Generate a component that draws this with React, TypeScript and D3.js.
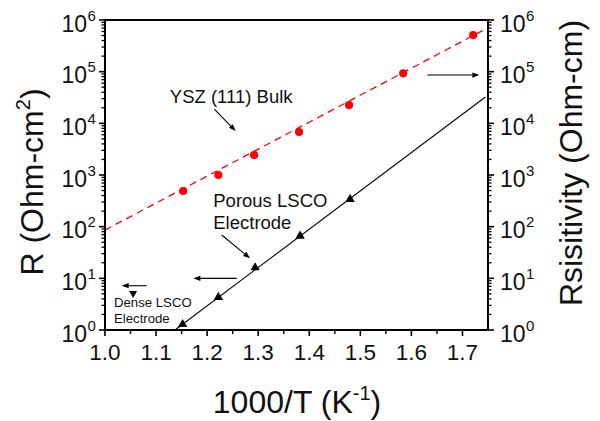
import React from "react";
import * as d3 from "d3";

// ---- data ----
const yszX = [1.153, 1.222, 1.292, 1.38, 1.478, 1.584, 1.721];
const yszY = [490, 1000, 2440, 6800, 22600, 93000, 510000];
const yszFitX = [1.0, 1.75];
const yszFitY = [86, 708000];

const porousX = [1.152, 1.222, 1.294, 1.382, 1.48];
const porousY = [1.29, 4.3, 16.1, 66, 339];
const porousFitX = [1.137, 1.745];
const porousFitY = [1, 32400];

const denseX = [1.055];
const denseY = [5.1];

const xTicks = [1.0, 1.1, 1.2, 1.3, 1.4, 1.5, 1.6, 1.7];
const xTickLabels = ["1.0", "1.1", "1.2", "1.3", "1.4", "1.5", "1.6", "1.7"];
const yExponents = [0, 1, 2, 3, 4, 5, 6];

// annotation arrows: [x1, y1, x2, y2] in data units (arrowhead at second point)
const arrowRight = [1.631, 86000, 1.733, 86000];
const arrowYSZ = [1.214, 18900, 1.256, 7100];
const arrowPorous = [1.2285, 69, 1.284, 24.4];
const arrowPorousLeft = [1.258, 10, 1.173, 10];
const arrowDenseLeft = [1.0817, 7.2, 1.0327, 7.2];

const W = 600;
const H = 421;
const L = 105, R = 488, T = 20, B = 330;
const FONT = "'Liberation Sans', Arial, Helvetica, sans-serif";

const x = d3.scaleLinear().domain([1.0, 1.75]).range([L, R]);
const y = d3.scaleLog().domain([1, 1e6]).range([B, T]);

function Arrow({ a }: { a: number[] }) {
  const x1 = x(a[0]), y1 = y(a[1]), x2 = x(a[2]), y2 = y(a[3]);
  const ang = Math.atan2(y2 - y1, x2 - x1);
  const hl = 7, hw = 2.6;
  const bx = x2 - hl * Math.cos(ang), by = y2 - hl * Math.sin(ang);
  const px = -Math.sin(ang) * hw, py = Math.cos(ang) * hw;
  return (
    <g>
      <line x1={x1} y1={y1} x2={bx} y2={by} stroke="#000" strokeWidth={1.1} />
      <path d={`M${x2},${y2}L${bx + px},${by + py}L${bx - px},${by - py}Z`} fill="#000" />
    </g>
  );
}

export default function App() {
  const minorX: number[] = [];
  for (let v = 1.05; v < 1.75; v += 0.1) minorX.push(+v.toFixed(2));
  const minorY: number[] = [];
  for (let e = 0; e < 6; e++) for (let k = 2; k <= 9; k++) minorY.push(k * Math.pow(10, e));

  const yszLine = d3.line<number>().x((d, i) => x(yszFitX[i])).y((d, i) => y(yszFitY[i]));
  const porLine = d3.line<number>().x((d, i) => x(porousFitX[i])).y((d, i) => y(porousFitY[i]));
  const tri = d3.symbol().type(d3.symbolTriangle).size(38)();
  const triDown = d3.symbol().type(d3.symbolTriangle).size(28)();

  return (
    <svg width={W} height={H} style={{ position: "absolute", left: 0, top: 0, background: "#fff" }} fontFamily={FONT}>
      <rect x={0} y={0} width={W} height={H} fill="#fff" />
      {/* fit lines */}
      <path d={yszLine(yszFitX) || ""} fill="none" stroke="#ff0000" strokeWidth={1.3} strokeDasharray="7,5" />
      <path d={porLine(porousFitX) || ""} fill="none" stroke="#000" strokeWidth={1.1} />
      {/* points */}
      {yszX.map((v, i) => (
        <circle key={"r" + i} cx={x(v)} cy={y(yszY[i])} r={4.1} fill="#ff0000" />
      ))}
      {porousX.map((v, i) => (
        <path key={"p" + i} d={tri || ""} transform={`translate(${x(v)},${y(porousY[i])})`} fill="#000" />
      ))}
      {denseX.map((v, i) => (
        <path key={"d" + i} d={triDown || ""} transform={`translate(${x(v)},${y(denseY[i])}) rotate(180)`} fill="#000" />
      ))}
      {/* arrows */}
      <Arrow a={arrowRight} />
      <Arrow a={arrowYSZ} />
      <Arrow a={arrowPorous} />
      <Arrow a={arrowPorousLeft} />
      <Arrow a={arrowDenseLeft} />
      {/* annotations */}
      <text x={x(1.127)} y={y(24400)} fontSize={18.5} fill="#111">YSZ (111) Bulk</text>
      <text x={x(1.212)} y={y(243)} fontSize={18.5} fill="#111">Porous LSCO</text>
      <text x={x(1.212)} y={y(243) + 22.6} fontSize={18.5} fill="#111">Electrode</text>
      <text x={x(1.0176)} y={y(2.82)} fontSize={13.2} fill="#111">Dense LSCO</text>
      <text x={x(1.0176)} y={y(2.82) + 16} fontSize={13.2} fill="#111">Electrode</text>

      {/* frame */}
      <rect x={L} y={T} width={R - L} height={B - T} fill="none" stroke="#000" strokeWidth={2} />
      {/* x ticks */}
      {xTicks.map((v) => (
        <line key={"xt" + v} x1={x(v)} x2={x(v)} y1={B} y2={B + 6} stroke="#000" strokeWidth={1.6} />
      ))}
      {minorX.map((v) => (
        <line key={"xm" + v} x1={x(v)} x2={x(v)} y1={B} y2={B + 4} stroke="#000" strokeWidth={1.4} />
      ))}
      {xTicks.map((v, i) => (
        <text key={"xl" + v} x={x(v)} y={359.5} fontSize={22.5} textAnchor="middle" fill="#111">{xTickLabels[i]}</text>
      ))}
      {/* y ticks left and right */}
      {yExponents.map((e) => (
        <g key={"ye" + e}>
          <line x1={L - 6} x2={L} y1={y(Math.pow(10, e))} y2={y(Math.pow(10, e))} stroke="#000" strokeWidth={1.6} />
          <line x1={R} x2={R + 6} y1={y(Math.pow(10, e))} y2={y(Math.pow(10, e))} stroke="#000" strokeWidth={1.6} />
          <text x={87} y={y(Math.pow(10, e)) + 11.7} fontSize={23} textAnchor="end" fill="#111">10</text>
          <text x={87.5} y={y(Math.pow(10, e)) + 0.7} fontSize={15} fill="#111">{e}</text>
          <text x={500} y={y(Math.pow(10, e)) + 11.7} fontSize={23} fill="#111">10</text>
          <text x={526} y={y(Math.pow(10, e)) + 0.7} fontSize={15} fill="#111">{e}</text>
        </g>
      ))}
      {minorY.map((v) => (
        <g key={"ym" + v}>
          <line x1={L - 3.5} x2={L} y1={y(v)} y2={y(v)} stroke="#000" strokeWidth={1.3} />
          <line x1={R} x2={R + 3.5} y1={y(v)} y2={y(v)} stroke="#000" strokeWidth={1.3} />
        </g>
      ))}
      {/* axis titles */}
      <text x={297} y={413} fontSize={32} textAnchor="middle" fill="#111">
        1000/T (K<tspan fontSize={20} dy={-13}>-1</tspan><tspan dy={13}>)</tspan>
      </text>
      <text transform={`translate(43,182) rotate(-90)`} fontSize={32} textAnchor="middle" fill="#111">
        R (Ohm-cm<tspan fontSize={20} dy={-13}>2</tspan><tspan dy={13}>)</tspan>
      </text>
      <text transform={`translate(582,163) rotate(-90)`} fontSize={32} textAnchor="middle" fill="#111">
        Rsisitivity (Ohm-cm)
      </text>
    </svg>
  );
}
